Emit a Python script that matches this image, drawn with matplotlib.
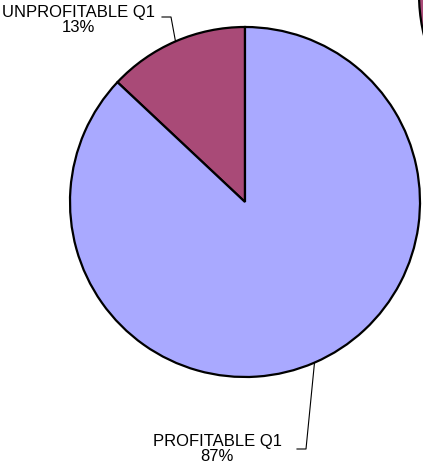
import numpy as np
import matplotlib.pyplot as plt

plt.rcParams['font.family'] = ['Liberation Sans', 'DejaVu Sans']

labels = ['UNPROFITABLE Q1', 'PROFITABLE Q1']
values = [13, 87]
colors = ['#A94A77', '#A9A9FF']

W, H = 423, 474
fig = plt.figure(figsize=(W / 100, H / 100), dpi=100)
ax = fig.add_axes([0, 0, 1, 1])

cx, cy, r = 245, H - 202, 175
wedges, _ = ax.pie(values, colors=colors, startangle=90, counterclock=True,
                   center=(cx, cy), radius=r, frame=True,
                   wedgeprops=dict(edgecolor='black', linewidth=1.6))
ax.set_xlim(0, W)
ax.set_ylim(0, H)
ax.set_aspect('equal')
ax.axis('off')

# neighbouring pie, mostly off the canvas
ax.add_patch(plt.Circle((594, H + 6), 175, facecolor='#A94A77',
                        edgecolor='black', linewidth=1.6))

# leader lines: (knee point, end point, text position) per slice
leaders = [((171, 17), (162, 17), (78, 20)),
           ((306, 449), (297, 449), (217, 449))]

for w, lab, v, (knee, end, txt) in zip(wedges, labels, values, leaders):
    ang = np.deg2rad((w.theta1 + w.theta2) / 2)
    x0, y0 = cx + r * np.cos(ang), cy + r * np.sin(ang)
    ax.plot([x0, knee[0], end[0]], [y0, H - knee[1], H - end[1]],
            color='black', linewidth=0.8)
    ax.text(txt[0], H - txt[1], f'{lab}\n{v}%', ha='center', va='center',
            multialignment='center', fontsize=12, linespacing=1.0)

fig.savefig('out.png', dpi=100)
